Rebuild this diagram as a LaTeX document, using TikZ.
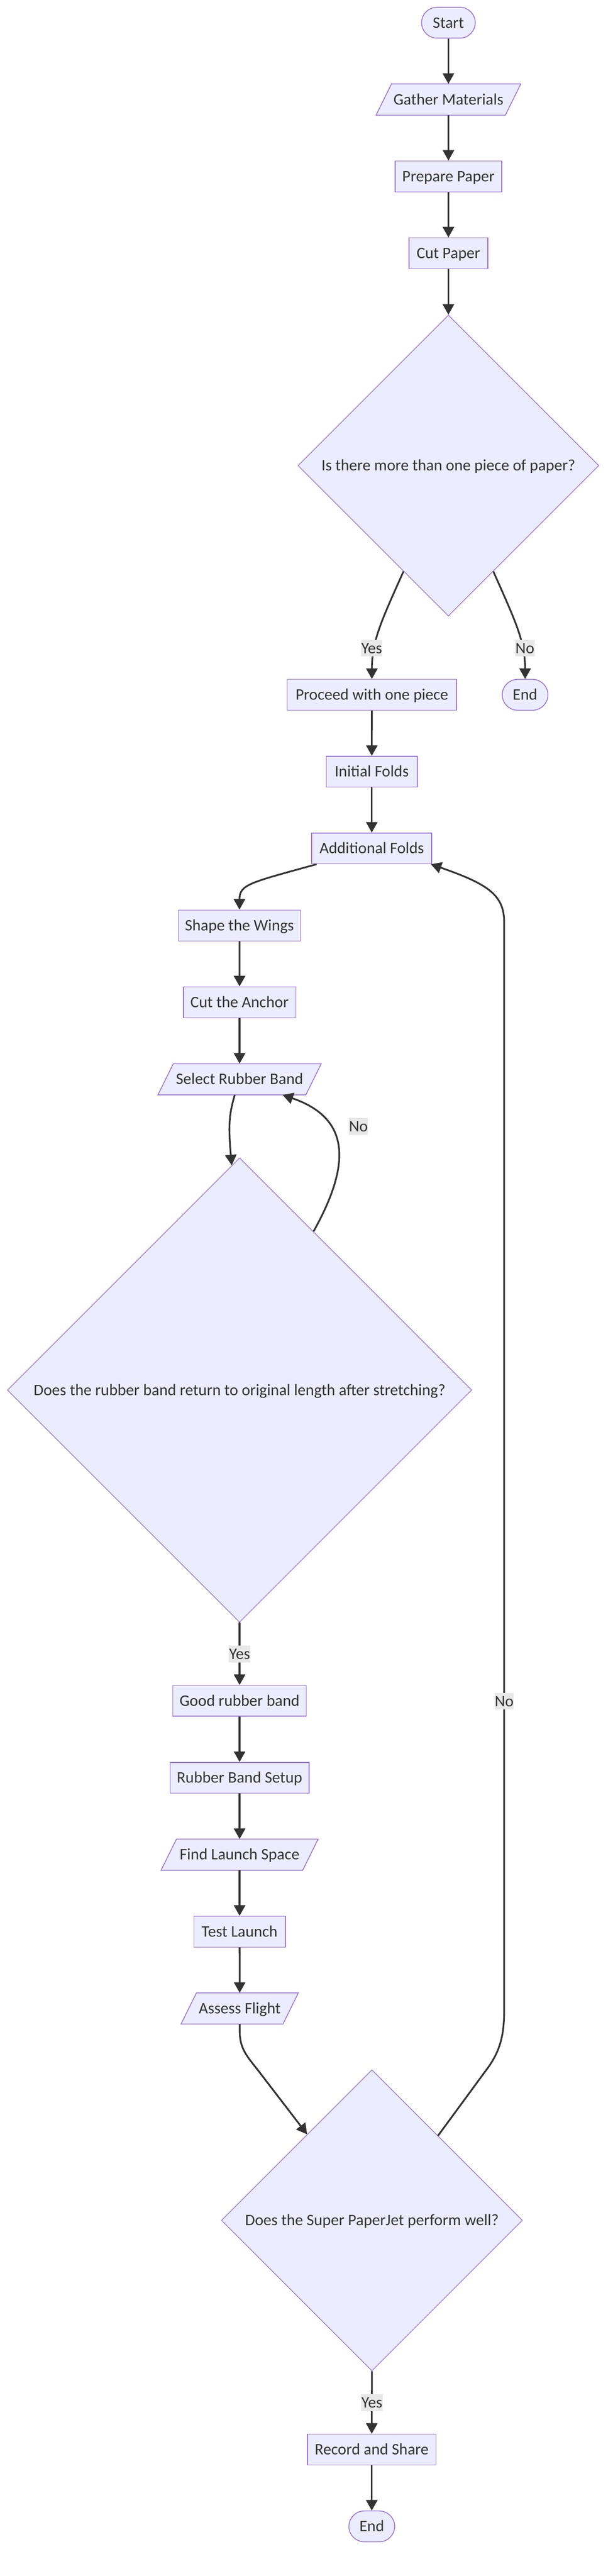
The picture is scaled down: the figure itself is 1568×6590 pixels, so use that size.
\documentclass[tikz,border=0pt]{standalone}
\usepackage{fontspec}
\setmainfont{Carlito}
\usetikzlibrary{shapes.geometric,arrows.meta}
\pgfdeclarelayer{back}
\pgfdeclarelayer{bg}
\pgfsetlayers{back,bg,main}
\definecolor{nfill}{HTML}{ECECFF}
\definecolor{nline}{HTML}{9370DB}
\definecolor{txt}{HTML}{333333}
\definecolor{ecol}{HTML}{333333}
\definecolor{lblbg}{HTML}{E8E8E8}
\newcommand\nfont{\fontsize{41}{49}\selectfont}
\tikzset{
  box/.style={rectangle, draw=nline, fill=nfill, line width=2pt, inner sep=0pt,
    text=txt, font=\nfont, minimum height=79pt, text height=26.5pt, text depth=0pt},
  term/.style={box, rounded corners=39.5pt},
  dec/.style={diamond, aspect=1, draw=nline, fill=nfill, line width=1.6pt, inner sep=0pt,
    text=txt, font=\nfont, text height=26.5pt, text depth=0pt},
  pgtext/.style={rectangle, inner sep=0pt, text=txt, font=\nfont,
    minimum height=79.6pt, text height=26.5pt, text depth=0pt},
  pgshape/.style={draw=nline, fill=nfill, line width=2pt, line join=miter},
  conn/.style={draw=ecol, line width=4.4pt, -{Triangle[width=29pt,length=27pt]}},
  lbl/.style={fill=lblbg, text=txt, font=\nfont, inner xsep=0.5pt, inner ysep=8.25pt,
    text height=26.5pt, text depth=0pt}
}
\begin{document}
\begin{tikzpicture}[x=1pt,y=-1pt]
\useasboundingbox (0,0) rectangle (1568,6590);
\begin{pgfonlayer}{back}
\fill[white] (0,0) rectangle (1568,6590);
\end{pgfonlayer}

% nodes
\node[term, minimum width=137.4pt] (start) at (1147.3,58) {Start};
\node[pgtext, minimum width=330.5pt] (gather) at (1147.3,254.6) {Gather Materials};
\node[box, minimum width=273.3pt] (prep) at (1147.4,451.4) {Prepare Paper};
\node[box, minimum width=201pt] (cut) at (1147.3,648) {Cut Paper};
\node[dec, minimum width=770pt, minimum height=770pt] (d1) at (1147.3,1191) {Is there more than one piece of paper?};
\node[box, minimum width=433pt] (proceed) at (951.5,1777.5) {Proceed with one piece};
\node[term, minimum width=117pt] (end1) at (1343.5,1777.5) {End};
\node[box, minimum width=233pt] (initf) at (951.2,1974) {Initial Folds};
\node[box, minimum width=307.2pt] (addf) at (951.2,2170.4) {Additional Folds};
\node[box, minimum width=312.2pt] (wings) at (612.7,2367.5) {Shape the Wings};
\node[box, minimum width=288pt] (anchor) at (613,2564) {Cut the Anchor};
\node[pgtext, minimum width=378.1pt] (selrb) at (613,2761) {Select Rubber Band};
\node[dec, minimum width=1188pt, minimum height=1188pt] (d2) at (613,3556) {Does the rubber band return to original length after stretching?};
\node[box, minimum width=341pt] (good) at (613,4351) {Good rubber band};
\node[box, minimum width=355pt] (setup) at (613,4548) {Rubber Band Setup};
\node[pgtext, minimum width=362pt] (findls) at (613,4744.6) {Find Launch Space};
\node[box, minimum width=234pt] (test) at (613,4941.6) {Test Launch};
\node[pgtext, minimum width=260.4pt] (assess) at (613.3,5138) {Assess Flight};
\node[dec, minimum width=770pt, minimum height=770pt] (d3) at (951.6,5680) {Does the Super PaperJet perform well?};
\node[box, minimum width=329pt] (record) at (951.2,6266.6) {Record and Share};
\node[term, minimum width=117.2pt] (end2) at (951.2,6463) {End};

% parallelogram outlines
\begin{pgfonlayer}{bg}
\foreach \n in {gather,selrb,findls,assess}{
  \draw[pgshape] ([xshift=-19.75pt]\n.south west) -- ([xshift=-19.75pt]\n.south east)
    -- ([xshift=19.75pt]\n.north east) -- ([xshift=19.75pt]\n.north west) -- cycle;
}
\end{pgfonlayer}

% connectors
\draw[conn] (start) -- (gather);
\draw[conn] (gather) -- (prep);
\draw[conn] (prep) -- (cut);
\draw[conn] (cut) -- (d1.north);
\draw[conn] (d1.247.5) .. controls (975,1590) and (951.5,1640) .. (proceed.north);
\draw[conn] (d1.-67.5) .. controls (1319,1590) and (1343.5,1640) .. (end1.north);
\draw[conn] (proceed) -- (initf);
\draw[conn] (initf) -- (addf);
\draw[conn] (addf.196) .. controls (640,2258) and (612.7,2262) .. (wings.north);
\draw[conn] (wings) -- (anchor);
\draw[conn] (anchor) -- (selrb);
\draw[conn] (selrb.253) .. controls (586,2850) and (584,2880) .. (d2.92.9);
\draw[conn] (d2.65.5) .. controls (900,2975) and (895,2860) .. (selrb.-20);
\draw[conn] (d2.south) -- (good.north);
\draw[conn] (good) -- (setup);
\draw[conn] (setup) -- (findls);
\draw[conn] (findls) -- (test);
\draw[conn] (test) -- (assess);
\draw[conn] (assess.south) -- (613.3,5195) .. controls (613.3,5240) and (630,5258) .. (660,5296) -- (d3.127.2);
\draw[conn] (d3.52.3) -- (1243,5297) .. controls (1283,5245) and (1290,5200) .. (1290,5139)
   -- (1290,2360) .. controls (1290,2290) and (1250,2262) .. (addf.-15);
\draw[conn] (d3.south) -- (record.north);
\draw[conn] (record) -- (end2);

% edge labels
\node[lbl] (l1) at (951,1658) {Yes};
\node[lbl] (l2) at (1343,1658) {No};
\node[lbl] (l3) at (917,2882) {No};
\node[lbl] (l4) at (613,4231) {Yes};
\node[lbl] (l5) at (1290,4352) {No};
\node[lbl] (l6) at (951.6,6146.5) {Yes};
\end{tikzpicture}
\end{document}
